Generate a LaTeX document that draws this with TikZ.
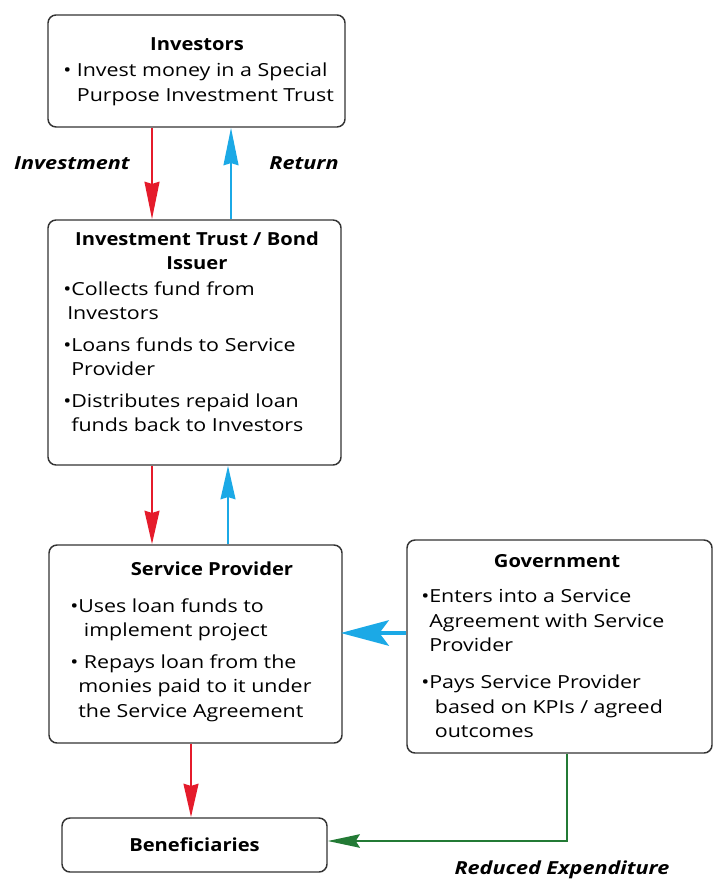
\documentclass[tikz,border=0pt]{standalone}
\usepackage{fontspec}
\setmainfont{Open Sans}[FakeStretch=1.19, BoldFeatures={FakeStretch=1.12}, BoldItalicFeatures={FakeStretch=1.2}]
\usetikzlibrary{arrows.meta,fit}
\definecolor{flowred}{HTML}{E51B2B}
\definecolor{flowblue}{HTML}{1BA9E6}
\definecolor{flowgreen}{HTML}{237A35}
\definecolor{boxline}{HTML}{333333}
\tikzset{
  box/.style={draw=boxline, line width=1.1pt, rounded corners=6pt, inner sep=0pt},
  title/.style={font=\fontsize{13.5}{18}\selectfont\bfseries, align=center, inner sep=0pt, anchor=north},
  body/.style={font=\fontsize{13.5}{18.5}\selectfont, align=left, inner sep=0pt, anchor=north west},
  flowlabel/.style={font=\fontsize{13.5}{18}\selectfont\bfseries\itshape, inner sep=0pt},
  flow/.style={line width=2.2pt, -{Stealth[length=28pt,width=11pt,inset=1.5pt]}},
  shortflow/.style={line width=2.2pt, -{Stealth[length=25pt,width=11pt,inset=1.5pt]}},
  wideflow/.style={line width=3.2pt, -{Stealth[length=36pt,width=19pt,inset=7pt]}},
  greenflow/.style={line width=2pt, -{Stealth[length=24pt,width=10pt,inset=3pt]}},
}
\newcommand{\ind}{\phantom{•}}
\begin{document}
\begin{tikzpicture}[x=0.75pt,y=-0.75pt]
\useasboundingbox (0,0) rectangle (713,880);

% boxes
\node[box, fit={(48,15) (345,127)}] (inv) {};
\node[box, fit={(48,220) (341,465)}] (trust) {};
\node[box, fit={(49,545) (342,743)}] (sp) {};
\node[box, fit={(407,540) (712,753)}] (gov) {};
\node[box, fit={(62,818) (327,872)}] (ben) {};

% box texts
\node[title] (invT) at (197,37) {Investors};
\node[body] (invB) at (63,63) {• Invest money in a Special\\\phantom{• }Purpose Investment Trust};

\node[title] (trustT) at (197,232) {Investment Trust / Bond\\Issuer};
\node[body] (trustB) at (63,281) {•Collects fund from\\\hspace*{3pt}Investors\\[5pt]
•Loans funds to Service\\\ind Provider\\[5pt]
•Distributes repaid loan\\\ind funds back to Investors};

\node[title] (spT) at (212,562) {Service Provider};
\node[body] (spB) at (70,598) {•Uses loan funds to\\\ind\ implement project\\[5pt]
• Repays loan from the\\\ind monies paid to it under\\\ind the Service Agreement};

\node[title] (govT) at (557,554) {Government};
\node[body] (govB) at (421,589) {•Enters into a Service\\\ind Agreement with Service\\\ind Provider\\[9pt]
•Pays Service Provider\\\ind\ based on KPIs / agreed\\\ind\ outcomes};

\node[title, anchor=center] (benT) at (ben.center) {Beneficiaries};

% flow labels
\node[flowlabel] (lInv) at (72,163) {Investment};
\node[flowlabel] (lRet) at (304,163) {Return};
\node[flowlabel] (lRed) at (562,870) {Reduced Expenditure};

% columns of the vertical arrows
\coordinate (c1) at (152,0);
\coordinate (c2) at (231,0);
\coordinate (c3) at (228,0);
\coordinate (c4) at (191,0);
\coordinate (c5) at (567,0);
\coordinate (r1) at (0,633);
\coordinate (r2) at (0,841);

% connectors
\draw[flow, flowred] (inv.south -| c1) -- (trust.north -| c1);
\draw[flow, flowblue] (trust.north -| c2) -- (inv.south -| c2);
\draw[shortflow, flowred] (trust.south -| c1) -- (sp.north -| c1);
\draw[shortflow, flowblue] (sp.north -| c3) -- (trust.south -| c3);
\draw[wideflow, flowblue] (gov.west |- r1) -- ([xshift=-1.5pt]sp.east |- r1);
\draw[shortflow, flowred] (sp.south -| c4) -- (ben.north -| c4);
\draw[greenflow, flowgreen] (gov.south -| c5) -- (c5 |- r2) -- (ben.east |- r2);
\end{tikzpicture}
\end{document}
